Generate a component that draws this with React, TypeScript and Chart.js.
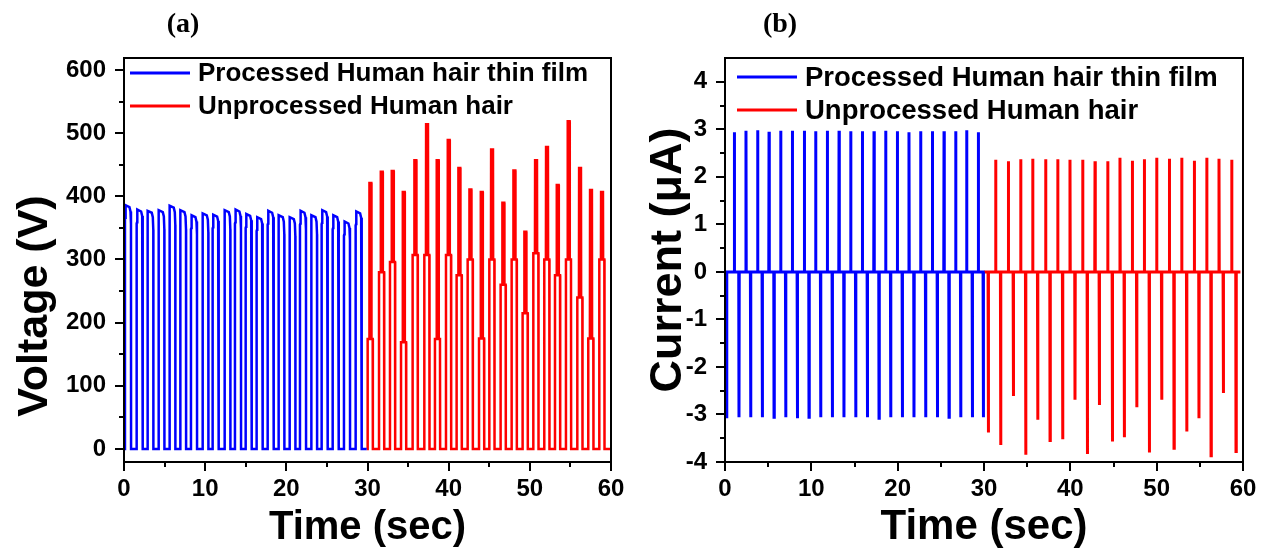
import React, { useEffect, useRef } from 'react';
import { Chart, registerables } from 'chart.js';
Chart.register(...registerables);

// ---------- axes ----------
const timeTicks = [0, 10, 20, 30, 40, 50, 60];
const timeMinorTicks = [5, 15, 25, 35, 45, 55];
const voltageTicks = [0, 100, 200, 300, 400, 500, 600];
const voltageMinorTicks = [50, 150, 250, 350, 450, 550];
const currentTicks = [-4, -3, -2, -1, 0, 1, 2, 3, 4];
const currentMinorTicks = [-3.5, -2.5, -1.5, -0.5, 0.5, 1.5, 2.5, 3.5];

const seriesLabels = ['Processed Human hair thin film', 'Unprocessed Human hair'];

// ---------- panel (a): voltage pulses ----------
const processedPulseOnsets = [0.12, 1.56, 2.87, 4.23, 5.58, 6.9, 8.25, 9.65, 10.92, 12.36, 13.67, 14.99, 16.34, 17.7, 19.01, 20.37, 21.68, 23.04, 24.35, 25.71, 27.1, 28.54];
const processedPulsePeaks = [386, 379, 377, 378, 385, 378, 370, 373, 371, 378, 379, 372, 367, 377, 370, 367, 377, 370, 378, 370, 360, 376];

const unprocessedPulseOnsets = [30.02, 31.42, 32.77, 34.13, 35.56, 37.0, 38.31, 39.67, 40.98, 42.34, 43.74, 45.01, 46.4, 47.76, 49.11, 50.43, 51.78, 53.1, 54.45, 55.85, 57.2, 58.56];
const unprocessedPulseSteps = [174, 280, 296, 169, 307, 307, 174, 307, 275, 300, 175, 300, 260, 300, 215, 310, 300, 275, 300, 240, 175, 300];
const unprocessedPulsePeaks = [421, 439, 440, 407, 457, 514, 457, 489, 445, 411, 407, 474, 390, 441, 344, 457, 478, 418, 519, 445, 410, 407];

// ---------- panel (b): current spikes ----------
const processedPosTimes = [1.08, 2.43, 3.78, 5.1, 6.45, 7.8, 9.19, 10.5, 11.85, 13.21, 14.56, 15.91, 17.26, 18.61, 19.96, 21.31, 22.66, 24.02, 25.37, 26.72, 27.99, 29.34];
const processedPosValues = [2.94, 2.97, 2.98, 2.95, 2.97, 2.97, 2.97, 2.96, 2.97, 2.97, 2.96, 2.96, 2.96, 2.97, 2.96, 2.94, 2.96, 2.96, 2.96, 2.96, 2.98, 2.94];
const processedNegTimes = [0.19, 1.62, 2.97, 4.32, 5.68, 7.03, 8.38, 9.73, 11.08, 12.43, 13.78, 15.14, 16.49, 17.84, 19.19, 20.54, 21.89, 23.24, 24.6, 25.95, 27.3, 28.65, 29.92];
const processedNegValues = [-3.08, -3.06, -3.06, -3.06, -3.06, -3.06, -3.08, -3.06, -3.06, -3.06, -3.06, -3.06, -3.06, -3.08, -3.06, -3.06, -3.06, -3.06, -3.06, -3.06, -3.06, -3.06, -3.06];

const unprocessedPosTimes = [31.35, 32.82, 34.25, 35.64, 37.14, 38.54, 39.96, 41.43, 42.86, 44.33, 45.75, 47.18, 48.57, 50.0, 51.47, 52.9, 54.36, 55.8, 57.22, 58.69];
const unprocessedPosValues = [2.36, 2.33, 2.37, 2.38, 2.37, 2.37, 2.36, 2.36, 2.33, 2.33, 2.4, 2.34, 2.37, 2.4, 2.38, 2.4, 2.34, 2.4, 2.38, 2.36];
const unprocessedNegTimes = [30.5, 31.93, 33.4, 34.83, 36.22, 37.65, 39.11, 40.54, 41.97, 43.36, 44.87, 46.25, 47.69, 49.15, 50.58, 52.01, 53.48, 54.9, 56.3, 57.72, 59.19];
const unprocessedNegValues = [-3.38, -3.64, -2.61, -3.85, -3.11, -3.55, -3.52, -2.69, -3.83, -2.8, -3.57, -3.48, -2.85, -3.8, -2.69, -3.71, -3.36, -3.08, -3.87, -2.55, -3.78];

const BLUE = '#0000ff';
const RED = '#ff0000';
const FONT = "'Liberation Sans', Arial, sans-serif";

type Pt = { x: number; y: number };

function processedVoltage(start: number, end: number): Pt[] {
  const pts: Pt[] = [{ x: start, y: 0 }];
  processedPulseOnsets.forEach((t, i) => {
    const pk = processedPulsePeaks[i];
    pts.push({ x: t, y: 0 }, { x: t, y: pk - 22 }, { x: t + 0.05, y: pk - 20 }, { x: t + 0.08, y: pk },
      { x: t + 0.55, y: pk - 3 }, { x: t + 0.68, y: pk - 10 }, { x: t + 0.74, y: pk - 30 }, { x: t + 0.75, y: 0 });
  });
  pts.push({ x: end, y: 0 });
  return pts;
}

function unprocessedVoltage(start: number, end: number): Pt[] {
  const pts: Pt[] = [{ x: start, y: 0 }];
  unprocessedPulseOnsets.forEach((t, i) => {
    const pk = unprocessedPulsePeaks[i];
    const lo = unprocessedPulseSteps[i];
    pts.push({ x: t, y: 0 }, { x: t, y: lo }, { x: t + 0.2, y: lo }, { x: t + 0.22, y: pk },
      { x: t + 0.45, y: pk }, { x: t + 0.47, y: lo }, { x: t + 0.62, y: lo }, { x: t + 0.64, y: 0 });
  });
  pts.push({ x: end, y: 0 });
  return pts;
}

function spikes(start: number, end: number, pt: number[], pv: number[], nt: number[], nv: number[]): Pt[] {
  const ev: { t: number; v: number }[] = [];
  pt.forEach((t, i) => ev.push({ t, v: pv[i] }));
  nt.forEach((t, i) => ev.push({ t, v: nv[i] }));
  ev.sort((a, b) => a.t - b.t);
  const pts: Pt[] = [{ x: start, y: 0 }];
  ev.forEach((e) => {
    pts.push({ x: e.t - 0.03, y: 0 }, { x: e.t, y: e.v }, { x: e.t + 0.03, y: 0 });
  });
  pts.push({ x: end, y: 0 });
  return pts;
}

const frameTicksPlugin = {
  id: 'frameTicks',
  afterDatasetsDraw(chart: any, _args: any, opts: any) {
    const { ctx, chartArea } = chart;
    const { left, right, top, bottom } = chartArea;
    const xs = chart.scales.x;
    const ys = chart.scales.y;
    ctx.save();
    ctx.strokeStyle = '#000';
    ctx.lineWidth = 2;
    ctx.strokeRect(left, top, right - left, bottom - top);
    ctx.beginPath();
    opts.xMajor.forEach((v: number) => { const p = Math.round(xs.getPixelForValue(v)); ctx.moveTo(p, bottom); ctx.lineTo(p, bottom + 9); });
    opts.xMinor.forEach((v: number) => { const p = Math.round(xs.getPixelForValue(v)); ctx.moveTo(p, bottom); ctx.lineTo(p, bottom + 5); });
    opts.yMajor.forEach((v: number) => { const p = Math.round(ys.getPixelForValue(v)); ctx.moveTo(left, p); ctx.lineTo(left - 9, p); });
    opts.yMinor.forEach((v: number) => { const p = Math.round(ys.getPixelForValue(v)); ctx.moveTo(left, p); ctx.lineTo(left - 5, p); });
    ctx.stroke();
    // legend inside the frame
    ctx.font = `bold ${opts.legendSize}px ${FONT}`;
    ctx.textBaseline = 'middle';
    ctx.textAlign = 'left';
    chart.data.datasets.forEach((ds: any, i: number) => {
      const y = top + opts.legendY + i * opts.legendGap;
      const x0 = left + opts.legendX;
      ctx.strokeStyle = ds.borderColor;
      ctx.lineWidth = 3;
      ctx.beginPath();
      ctx.moveTo(x0, y);
      ctx.lineTo(x0 + 60, y);
      ctx.stroke();
      ctx.fillStyle = '#000';
      ctx.fillText(ds.label, x0 + 68, y + 1);
    });
    // y axis title (rotated)
    ctx.save();
    ctx.translate(opts.yTitleX, opts.yTitleY);
    ctx.rotate(-Math.PI / 2);
    ctx.font = `bold ${opts.yTitleSize}px ${FONT}`;
    ctx.textAlign = 'center';
    ctx.textBaseline = 'alphabetic';
    ctx.fillStyle = '#000';
    ctx.fillText(opts.yTitle, 0, 0);
    ctx.restore();
    ctx.restore();
  },
};

function makeConfig(p: {
  datasets: any[];
  yMin: number; yMax: number; yTicks: number[]; yMinor: number[]; yTitle: string;
  yWidth: number; padRight: number; legendX: number; legendY: number; legendSize: number;
  yTitleX: number; yTitleY: number; yTitleSize: number; xTitleSize: number;
}) {
  return {
    type: 'line' as const,
    data: { datasets: p.datasets },
    plugins: [frameTicksPlugin],
    options: {
      responsive: false,
      animation: false as const,
      parsing: false as const,
      layout: { padding: { left: 0, right: p.padRight, top: 58, bottom: 0 } },
      elements: { point: { radius: 0 }, line: { tension: 0 } },
      plugins: {
        legend: { display: false },
        tooltip: { enabled: false },
        frameTicks: {
          xMajor: timeTicks, xMinor: timeMinorTicks, yMajor: p.yTicks, yMinor: p.yMinor,
          legendX: p.legendX, legendY: p.legendY, legendGap: 33, legendSize: p.legendSize,
          yTitle: p.yTitle, yTitleX: p.yTitleX, yTitleY: p.yTitleY, yTitleSize: p.yTitleSize,
        },
      },
      scales: {
        x: {
          type: 'linear' as const,
          min: 0,
          max: 60,
          grid: { display: false, drawTicks: false },
          border: { display: false },
          afterBuildTicks: (s: any) => { s.ticks = timeTicks.map((value) => ({ value })); },
          afterFit: (s: any) => { s.height = 96; },
          ticks: { autoSkip: false, maxRotation: 0, padding: 13, color: '#000', font: { family: FONT, size: 24, weight: 'bold' as const } },
          title: { display: true, text: 'Time (sec)', color: '#000', padding: { top: 0, bottom: 10 }, font: { family: FONT, size: p.xTitleSize, weight: 'bold' as const, lineHeight: 1 } },
        },
        y: {
          type: 'linear' as const,
          min: p.yMin,
          max: p.yMax,
          grid: { display: false, drawTicks: false },
          border: { display: false },
          afterBuildTicks: (s: any) => { s.ticks = p.yTicks.map((value) => ({ value })); },
          afterFit: (s: any) => { s.width = p.yWidth; },
          ticks: { autoSkip: false, padding: 18, color: '#000', font: { family: FONT, size: 24, weight: 'bold' as const }, callback: (v: any) => String(v) },
          title: { display: false, text: p.yTitle },
        },
      },
    },
  };
}

function ChartCanvas({ config, width, height, left }: { config: any; width: number; height: number; left: number }) {
  const ref = useRef<HTMLCanvasElement | null>(null);
  useEffect(() => {
    if (!ref.current) return;
    const chart = new Chart(ref.current, config);
    return () => chart.destroy();
  }, []);
  return <canvas ref={ref} width={width} height={height} style={{ position: 'absolute', left, top: 0, width, height }} />;
}

export default function App() {
  const voltageConfig = makeConfig({
    datasets: [
      { label: seriesLabels[0], data: processedVoltage(0, 29.9), borderColor: BLUE, borderWidth: 2.5 },
      { label: seriesLabels[1], data: unprocessedVoltage(29.9, 60), borderColor: RED, borderWidth: 2.5 },
    ],
    yMin: -20.6, yMax: 619, yTicks: voltageTicks, yMinor: voltageMinorTicks, yTitle: 'Voltage (V)',
    yWidth: 124, padRight: 29, legendX: 6, legendY: 15, legendSize: 26,
    yTitleX: 47, yTitleY: 306, yTitleSize: 43, xTitleSize: 40,
  });
  const currentConfig = makeConfig({
    datasets: [
      { label: seriesLabels[0], data: spikes(0, 30.0, processedPosTimes, processedPosValues, processedNegTimes, processedNegValues), borderColor: BLUE, borderWidth: 3 },
      { label: seriesLabels[1], data: spikes(30.0, 59.7, unprocessedPosTimes, unprocessedPosValues, unprocessedNegTimes, unprocessedNegValues), borderColor: RED, borderWidth: 3 },
    ],
    yMin: -4, yMax: 4.5, yTicks: currentTicks, yMinor: currentMinorTicks, yTitle: 'Current (μA)',
    yWidth: 89, padRight: 28, legendX: 12, legendY: 19, legendSize: 27.5,
    yTitleX: 45, yTitleY: 260, yTitleSize: 45, xTitleSize: 42,
  });
  return (
    <div style={{ position: 'fixed', left: 0, top: 0, width: 1271, height: 558, background: '#fff', overflow: 'hidden' }}>
      <ChartCanvas config={voltageConfig} width={640} height={558} left={0} />
      <ChartCanvas config={currentConfig} width={635} height={558} left={636} />
      <div style={{ position: 'absolute', left: 133, width: 100, top: 7, textAlign: 'center', fontFamily: "'Liberation Serif', 'Times New Roman', serif", fontWeight: 'bold', fontSize: 28, color: '#000' }}>(a)</div>
      <div style={{ position: 'absolute', left: 730, width: 100, top: 7, textAlign: 'center', fontFamily: "'Liberation Serif', 'Times New Roman', serif", fontWeight: 'bold', fontSize: 28, color: '#000' }}>(b)</div>
    </div>
  );
}
